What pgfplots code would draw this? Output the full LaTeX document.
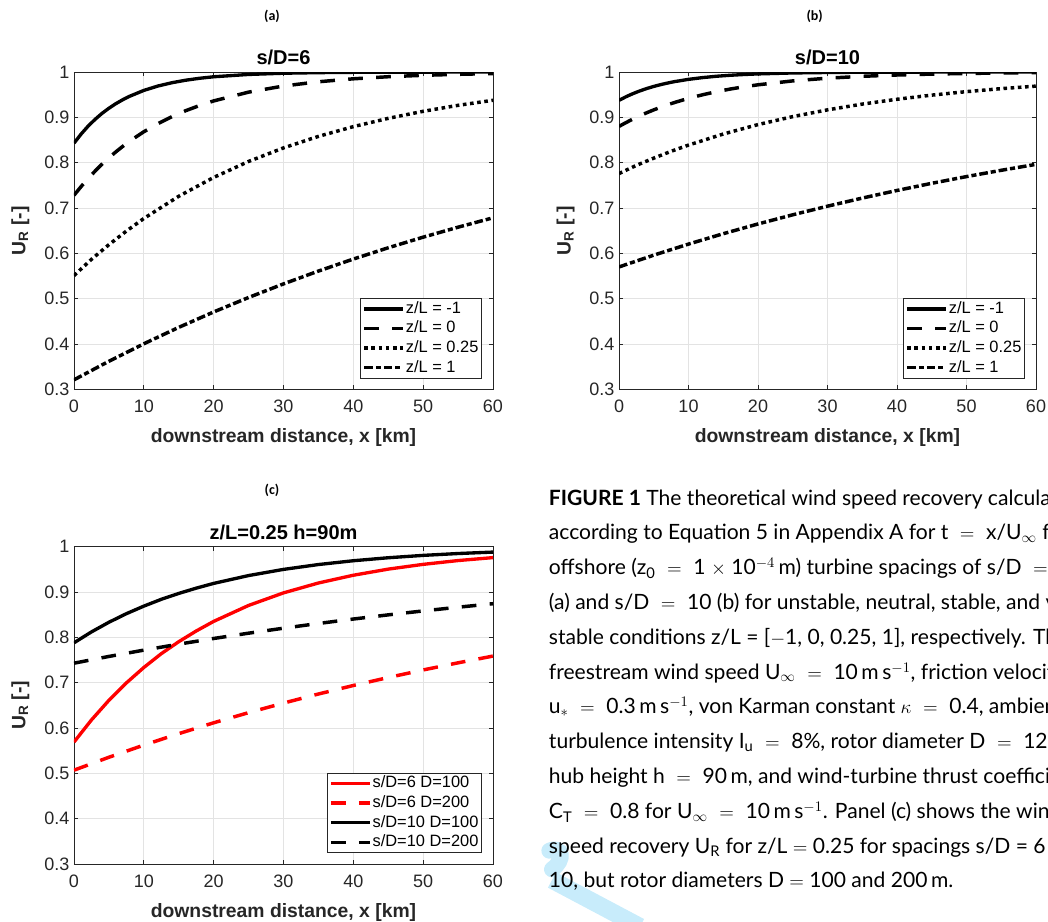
\documentclass[border=0pt]{standalone}
\usepackage{pgfplots}
\pgfplotsset{compat=1.18}
\usepackage{fontspec}
\setmainfont{Liberation Sans}
\newfontfamily\capfont{Lato}
\newfontfamily\panfont{Carlito}
\definecolor{axgray}{rgb}{0.15,0.15,0.15}
\definecolor{gridgray}{rgb}{0.89,0.89,0.89}
\definecolor{wmark}{RGB}{200,236,251}

\pgfplotsset{
  mat/.style={
    scale only axis,
    xmin=0, xmax=60, ymin=0.3, ymax=1,
    xtick={0,10,20,30,40,50,60},
    ytick={0.3,0.4,0.5,0.6,0.7,0.8,0.9,1},
    grid=major,
    grid style={gridgray, line width=0.5pt},
    axis line style={axgray, line width=0.6pt},
    tick style={axgray, line width=0.6pt},
    tick align=inside,
    major tick length=3pt,
    /pgf/number format/assume math mode=true,
    ticklabel style={font=\fontsize{13.5}{13.5}\selectfont, text=axgray},
    xticklabel style={yshift=-4.5pt},
    xlabel={downstream distance, x [km]},
    ylabel={U\textsubscript{R} [-]},
    xlabel style={font=\bfseries\fontsize{14.5}{14.5}\selectfont, text=axgray,
      at={(axis description cs:0.5,0)}, anchor=center, yshift=-36pt},
    ylabel style={font=\bfseries\fontsize{14.5}{14.5}\selectfont, text=axgray,
      at={(axis description cs:-0.128,0.5)}, anchor=center},
    title style={font=\bfseries\fontsize{15}{15}\selectfont,
      at={(axis description cs:0.5,1)}, anchor=center, yshift=5pt},
    legend style={at={(1,0)}, anchor=south east, xshift=-8.2pt, yshift=8.2pt,
      draw=axgray, line width=0.5pt, fill=white,
      font=\fontsize{12.3}{12.3}\selectfont,
      inner xsep=1.5pt, inner ysep=1pt, row sep=1.2pt,
      nodes={inner sep=1pt, text height=9pt, text depth=2.5pt}},
    legend cell align=left,
    legend image code/.code={\draw[##1] (0pt,0pt) -- (29pt,0pt);},
  },
  sol/.style={line width=2.5pt},
  dsh/.style={line width=2.6pt, dash pattern=on 11pt off 10pt},
  dot/.style={line width=2.6pt, dash pattern=on 2.7pt off 2.7pt},
  dd/.style={line width=2.6pt, dash pattern=on 6.5pt off 2.2pt on 3.8pt off 2.2pt},
}

\newcommand\eq{\hspace{0.55em}$=$\hspace{0.55em}}

\begin{document}
\begin{tikzpicture}
\path[use as bounding box] (0,0) rectangle (786pt,-690.75pt);

% watermark fragment
\draw[wmark, line width=12pt, line cap=round] (412pt,-638pt) .. controls (422pt,-634pt) and (424pt,-645pt) .. (414pt,-652pt);
\draw[wmark, line width=13pt] (414pt,-660pt) -- (480pt,-695pt);

% panel letters
\node[font=\panfont\bfseries\fontsize{10.5}{10.5}\selectfont] at (204pt,-12pt) {(a)};
\node[font=\panfont\bfseries\fontsize{10.5}{10.5}\selectfont] at (611pt,-12pt) {(b)};
\node[font=\panfont\bfseries\fontsize{10.5}{10.5}\selectfont] at (204pt,-367.5pt) {(c)};

% ---------- (a)
\begin{axis}[mat, at={(55.5pt,-292pt)}, anchor=south west,
  width=314.25pt, height=238pt, title={s/D=6}]
\addplot[sol, black] coordinates {
(0,0.843) (1,0.8628) (2,0.8802) (3,0.8953) (4,0.9086) (5,0.9201) (6,0.9302)
(7,0.9390) (8,0.9467) (10,0.9594) (12,0.9690) (14,0.9763) (16,0.9819)
(18,0.9862) (20,0.9895) (25,0.9946) (30,0.9973) (35,0.9986) (40,0.9993)
(45,0.9996) (50,0.9998) (55,0.9999) (60,1.0000)};
\addlegendentry{z/L = -1}
\addplot[dsh, black] coordinates {
(0,0.728) (1,0.7470) (2,0.7647) (3,0.7811) (4,0.7965) (5,0.8107) (6,0.8239)
(7,0.8362) (8,0.8477) (10,0.8682) (12,0.8860) (14,0.9014) (16,0.9147)
(18,0.9262) (20,0.9362) (25,0.9556) (30,0.9691) (35,0.9785) (40,0.9850)
(45,0.9896) (50,0.9927) (55,0.9949) (60,0.9965)};
\addlegendentry{z/L = 0}
\addplot[dot, black] coordinates {
(0,0.551) (2.5,0.5868) (5,0.6191) (7.5,0.6491) (10,0.6769) (15,0.7259) (20,0.7674)
(25,0.8027) (30,0.8326) (35,0.8580) (40,0.8795) (45,0.8978) (50,0.9133)
(55,0.9265) (60,0.9376)};
\addlegendentry{z/L = 0.25}
\addplot[dd, black] coordinates {
(0,0.321) (5,0.3620) (10,0.4005) (15,0.4367) (20,0.4707) (25,0.5026)
(30,0.5326) (35,0.5609) (40,0.5874) (45,0.6123) (50,0.6357) (55,0.6577)
(60,0.6784)};
\addlegendentry{z/L = 1}
\end{axis}

% ---------- (b)
\begin{axis}[mat, at={(464.25pt,-292pt)}, anchor=south west,
  width=312.75pt, height=238pt, title={s/D=10}]
\addplot[sol, black] coordinates {
(0,0.9375) (1,0.9454) (2,0.9523) (3,0.9583) (4,0.9636) (5,0.9682) (6,0.9722)
(7,0.9757) (8,0.9788) (10,0.9838) (12,0.9876) (14,0.9906) (16,0.9928)
(18,0.9945) (20,0.9958) (25,0.9979) (30,0.9989) (35,0.9995) (40,0.9997)
(45,0.9999) (50,0.9999) (55,1.0) (60,1.0)};
\addlegendentry{z/L = -1}
\addplot[dsh, black] coordinates {
(0,0.880) (1,0.8884) (2,0.8962) (3,0.9034) (4,0.9102) (5,0.9165) (6,0.9223)
(7,0.9277) (8,0.9328) (10,0.9419) (12,0.9497) (14,0.9565) (16,0.9624)
(18,0.9674) (20,0.9718) (25,0.9804) (30,0.9864) (35,0.9905) (40,0.9934)
(45,0.9954) (50,0.9968) (55,0.9978) (60,0.9985)};
\addlegendentry{z/L = 0}
\addplot[dot, black] coordinates {
(0,0.776) (2.5,0.7941) (5,0.8100) (7.5,0.8251) (10,0.8388) (15,0.8632) (20,0.8840)
(25,0.9016) (30,0.9165) (35,0.9292) (40,0.9399) (45,0.9490) (50,0.9567)
(55,0.9633) (60,0.9689)};
\addlegendentry{z/L = 0.25}
\addplot[dd, black] coordinates {
(0,0.570) (5,0.5960) (10,0.6204) (15,0.6433) (20,0.6648) (25,0.6850)
(30,0.7040) (35,0.7219) (40,0.7387) (45,0.7545) (50,0.7693) (55,0.7832)
(60,0.7963)};
\addlegendentry{z/L = 1}
\end{axis}

% ---------- (c)
\begin{axis}[mat, at={(55.5pt,-648pt)}, anchor=south west,
  width=314.25pt, height=238pt, title={z/L=0.25 h=90m}]
\addplot[sol, red] coordinates {
(0,0.569) (2.5,0.6178) (5,0.6611) (7.5,0.6995) (10,0.7335) (12.5,0.7640) (15,0.7904)
(17.5,0.8140) (20,0.8352) (25,0.8704) (30,0.8981) (35,0.9199) (40,0.9370)
(45,0.9505) (50,0.9610) (55,0.9694) (60,0.9759)};
\addlegendentry{s/D=6 D=100}
\addplot[dsh, red] coordinates {
(0,0.507) (5,0.5355) (10,0.5623) (15,0.5876) (20,0.6115) (25,0.6339)
(30,0.6550) (35,0.6750) (40,0.6938) (45,0.7114) (50,0.7281) (55,0.7438)
(60,0.7587)};
\addlegendentry{s/D=6 D=200}
\addplot[sol, black] coordinates {
(0,0.788) (2.5,0.8120) (5,0.8333) (7.5,0.8522) (10,0.8689) (12.5,0.8839) (15,0.8969)
(17.5,0.9085) (20,0.9190) (25,0.9363) (30,0.9499) (35,0.9606) (40,0.9690)
(45,0.9756) (50,0.9808) (55,0.9849) (60,0.9881)};
\addlegendentry{s/D=10 D=100}
\addplot[dsh, black] coordinates {
(0,0.743) (5,0.7579) (10,0.7718) (15,0.7850) (20,0.7975) (25,0.8092)
(30,0.8202) (35,0.8306) (40,0.8404) (45,0.8496) (50,0.8583) (55,0.8665)
(60,0.8742)};
\addlegendentry{s/D=10 D=200}
\end{axis}

% ---------- caption
\begin{scope}[every node/.style={anchor=base west, inner sep=0pt,
  font=\capfont\fontsize{15.8}{15.8}\selectfont}]
\node at (411.5pt,-378.75pt) {\textbf{FIGURE 1} The theoretical wind speed recovery calculated};
\node at (411.5pt,-404.85pt) {according to Equation 5 in Appendix A for t\eq x/U$_\infty$ for};
\node at (411.5pt,-430.95pt) {offshore (z\textsubscript{0}\eq 1 $\times$ 10$^{-4}$\,m) turbine spacings of s/D\eq 6};
\node at (411.5pt,-457.05pt) {(a) and s/D\eq 10 (b) for unstable, neutral, stable, and very};
\node at (411.5pt,-483.15pt) {stable conditions z/L = [$-$1, 0, 0.25, 1], respectively. The};
\node at (411.5pt,-509.25pt) {freestream wind speed U$_\infty$\eq 10\,m\,s$^{-1}$, friction velocity};
\node at (411.5pt,-535.35pt) {u$_*$\eq 0.3\,m\,s$^{-1}$, von Karman constant $\kappa$\eq 0.4, ambient};
\node at (411.5pt,-561.45pt) {turbulence intensity I\textsubscript{u}\eq 8\%, rotor diameter D\eq 120\,m,};
\node at (411.5pt,-587.55pt) {hub height h\eq 90\,m, and wind-turbine thrust coefficient};
\node at (411.5pt,-613.65pt) {C\textsubscript{T}\eq 0.8 for U$_\infty$\eq 10\,m\,s$^{-1}$. Panel (c) shows the wind};
\node at (411.5pt,-639.75pt) {speed recovery U\textsubscript{R} for z/L $=$ 0.25 for spacings s/D = 6 and};
\node at (411.5pt,-665.85pt) {10, but rotor diameters D $=$ 100 and 200\,m.};
\end{scope}
\end{tikzpicture}
\end{document}
